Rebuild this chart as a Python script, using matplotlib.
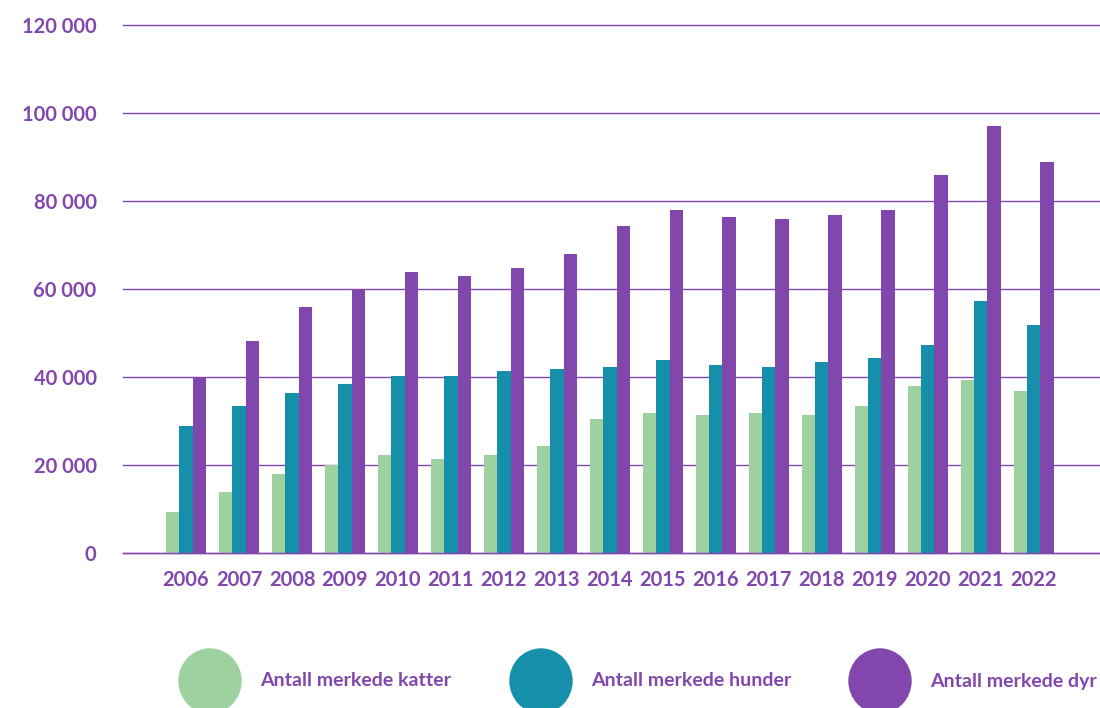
import matplotlib.pyplot as plt
import numpy as np
from matplotlib.patches import Ellipse

years = [str(y) for y in range(2006, 2023)]
katter = [9300, 13900, 18000, 20000, 22300, 21400, 22300, 24300, 30500, 31800,
          31400, 31800, 31400, 33400, 38000, 39300, 36800]
hunder = [28900, 33400, 36400, 38400, 40200, 40200, 41400, 41800, 42300, 43900,
          42700, 42300, 43400, 44300, 47300, 57300, 51800]
dyr = [40000, 48200, 55900, 59800, 63900, 63000, 64800, 68000, 74300, 78000,
       76400, 75900, 76800, 78000, 85900, 97000, 88900]
series_labels = ["Antall merkede katter", "Antall merkede hunder", "Antall merkede dyr"]
yticks = [0, 20000, 40000, 60000, 80000, 100000, 120000]

colors = ["#9dd1a0", "#168fab", "#8247ad"]
text_color = "#8247ad"

plt.rcParams['font.family'] = ['Lato', 'DejaVu Sans']

fig = plt.figure(figsize=(11, 7.08), dpi=100)
ax = fig.add_axes([123 / 1100, 1 - 553 / 708, 1 - 123 / 1100, (553 - 25) / 708])

x = np.arange(len(years))
w = 0.25
for i, vals in enumerate([katter, hunder, dyr]):
    ax.bar(x + (i - 1) * w, vals, width=w, color=colors[i], zorder=3)

ax.set_ylim(0, 120000)
ax.set_xlim(-1.19, 17.25)
ax.set_yticks(yticks)
ax.set_yticklabels([f"{v:,}".replace(",", " ") for v in yticks])
ax.set_xticks(x)
ax.set_xticklabels(years)
ax.tick_params(axis='y', length=0, pad=19, labelsize=14.5, labelcolor=text_color)
ax.tick_params(axis='x', length=0, pad=12, labelsize=14.5, labelcolor=text_color)
for lab in ax.get_xticklabels() + ax.get_yticklabels():
    lab.set_fontweight('bold')

ax.grid(axis='y', color=text_color, linewidth=1.0, zorder=0)
for gl in ax.get_ygridlines():
    gl.set_clip_on(False)
ax.axhline(0, color=text_color, linewidth=1.0, zorder=4, clip_on=False)
for s in ax.spines.values():
    s.set_visible(False)

# legend: big circles with labels
cx = [210, 541, 880]
for c, lx, lab in zip(colors, cx, series_labels):
    fig.add_artist(Ellipse((lx / 1100, 1 - 681 / 708), 62 / 1100, 64 / 708,
                           transform=fig.transFigure, color=c))
    fig.text((lx + 50) / 1100, 1 - 681 / 708, lab, color=text_color, fontsize=14,
             fontweight='bold', va='center', ha='left')

fig.savefig("out.png", dpi=100)
